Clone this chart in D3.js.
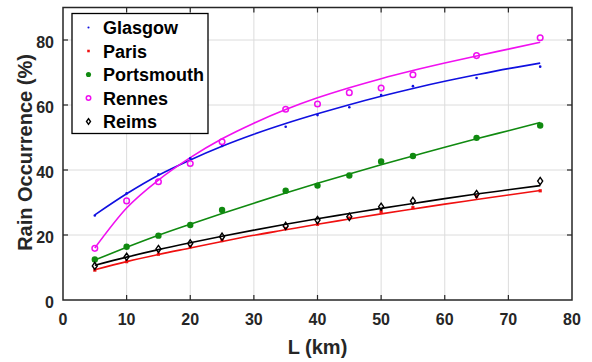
<!DOCTYPE html>
<html><head><meta charset="utf-8">
<script src="https://cdn.jsdelivr.net/npm/d3@7"></script>
<style>
html,body{margin:0;padding:0;background:#fff;}
svg{display:block;font-family:"Liberation Sans",Arial,sans-serif;}
</style></head>
<body><svg id="c" width="592" height="362"></svg>
<script>
// ---- data ----
const cities = ["Glasgow","Paris","Portsmouth","Rennes","Reims"];
const obsL = [5,10,15,20,25,35,40,45,50,55,65,75];
const glasgowObs    = [26.0,32.8,38.7,43.6,47.4,53.3,56.9,59.3,63.1,65.8,68.3,71.8];
const parisObs      = [9.2,11.8,14.1,16.4,18.3,22.0,23.3,25.2,27.2,28.4,31.8,33.6];
const portsmouthObs = [12.5,16.4,19.8,23.1,27.7,33.6,35.2,38.3,42.6,44.3,49.9,53.7];
const rennesObs     = [15.9,30.5,36.4,42.0,48.7,58.7,60.3,63.8,65.2,69.3,75.2,80.7];
const reimsObs      = [10.5,13.3,15.7,17.4,19.5,22.8,24.6,25.6,28.7,30.5,32.6,36.6];
const fitL = [5,10,15,20,25,30,35,40,45,50,55,60,65,70,75];
const glasgowFit    = [26.2,32.7,38.4,43.1,47.3,51.0,54.3,57.3,60.1,62.7,65.1,67.3,69.3,71.2,72.9];
const parisFit      = [9.3,11.8,14.0,16.0,18.0,19.9,21.6,23.3,24.9,26.5,28.0,29.5,30.9,32.3,33.7];
const portsmouthFit = [12.3,16.2,19.9,23.3,26.6,29.8,32.9,35.9,38.8,41.6,44.3,47.0,49.6,52.1,54.6];
const rennesFit     = [16.0,28.3,36.9,43.8,49.6,54.4,58.6,62.2,65.3,68.1,70.6,72.9,75.1,77.2,79.3];
const reimsFit      = [10.7,13.2,15.5,17.6,19.6,21.5,23.3,25.0,26.6,28.2,29.7,31.2,32.6,33.9,35.2];
const xTicks = [0,10,20,30,40,50,60,70,80];
const yTicks = [0,20,40,60,80];

const obs = [glasgowObs,parisObs,portsmouthObs,rennesObs,reimsObs];
const fits = [glasgowFit,parisFit,portsmouthFit,rennesFit,reimsFit];
const colors = ["#1010e0","#f01010","#108a10","#f010f0","#000000"];
const markers = ["dot","square","filled","open","diamond"];

// ---- layout ----
const svg = d3.select("#c");
const X0=63, X1=572, Y0=300, Y1=7.5;
const x = d3.scaleLinear().domain([0,80]).range([X0,X1]);
const y = d3.scaleLinear().domain([0,90]).range([Y0,Y1]);
const axisColor="#262626";

// grid
const g = svg.append("g");
g.selectAll("line.gx").data(xTicks.slice(1,-1)).join("line")
  .attr("x1",d=>x(d)).attr("x2",d=>x(d)).attr("y1",Y0).attr("y2",Y1)
  .attr("stroke","#dcdcdc").attr("stroke-width",1);
g.selectAll("line.gy").data(yTicks.slice(1)).join("line")
  .attr("y1",d=>y(d)).attr("y2",d=>y(d)).attr("x1",X0).attr("x2",X1)
  .attr("stroke","#dcdcdc").attr("stroke-width",1);

// fit lines
const line = d3.line().x(d=>x(d[0])).y(d=>y(d[1])).curve(d3.curveMonotoneX);
fits.forEach((f,i)=>{
  svg.append("path").datum(fitL.map((l,j)=>[l,f[j]]))
    .attr("d",line).attr("fill","none").attr("stroke",colors[i]).attr("stroke-width",1.6);
});

function drawMarker(sel, type, color, s){
  if(type==="dot"){
    sel.append("circle").attr("r",1.3*s).attr("fill",color);
  } else if(type==="square"){
    sel.append("rect").attr("x",-1.6*s).attr("y",-1.6*s).attr("width",3.2*s).attr("height",3.2*s).attr("fill",color);
  } else if(type==="filled"){
    sel.append("circle").attr("r",3.2*s).attr("fill",color);
  } else if(type==="open"){
    sel.append("circle").attr("r",2.8*s).attr("fill","none").attr("stroke",color).attr("stroke-width",1.5);
  } else {
    sel.append("path").attr("d",`M0,${-3.6*s}L${2.5*s},0L0,${3.6*s}L${-2.5*s},0Z`).attr("fill","none").attr("stroke",color).attr("stroke-width",1.4);
  }
}

// markers
obs.forEach((arr,i)=>{
  arr.forEach((v,j)=>{
    const m = svg.append("g").attr("transform",`translate(${x(obsL[j])},${y(v)})`);
    drawMarker(m, markers[i], colors[i], 1);
  });
});

// axes box + ticks
const ax = svg.append("g");
ax.append("rect").attr("x",X0).attr("y",Y1).attr("width",X1-X0).attr("height",Y0-Y1)
  .attr("fill","none").attr("stroke",axisColor).attr("stroke-width",1.5);
const tl=5;
xTicks.slice(1,-1).forEach(t=>{
  ax.append("line").attr("x1",x(t)).attr("x2",x(t)).attr("y1",Y0).attr("y2",Y0-tl).attr("stroke",axisColor).attr("stroke-width",1.2);
  ax.append("line").attr("x1",x(t)).attr("x2",x(t)).attr("y1",Y1).attr("y2",Y1+tl).attr("stroke",axisColor).attr("stroke-width",1.2);
});
yTicks.slice(1).forEach(t=>{
  ax.append("line").attr("y1",y(t)).attr("y2",y(t)).attr("x1",X0).attr("x2",X0+tl).attr("stroke",axisColor).attr("stroke-width",1.2);
  ax.append("line").attr("y1",y(t)).attr("y2",y(t)).attr("x1",X1).attr("x2",X1-tl).attr("stroke",axisColor).attr("stroke-width",1.2);
});
ax.selectAll("text.xt").data(xTicks).join("text")
  .attr("x",d=>x(d)).attr("y",325).attr("text-anchor","middle")
  .attr("font-size",16).attr("font-weight","bold").attr("fill",axisColor).text(d=>d);
ax.selectAll("text.yt").data(yTicks).join("text")
  .attr("x",54).attr("y",d=>y(d)+8).attr("text-anchor","end")
  .attr("font-size",16).attr("font-weight","bold").attr("fill",axisColor).text(d=>d);

svg.append("text").attr("x",(X0+X1)/2).attr("y",354).attr("text-anchor","middle")
  .attr("font-size",20).attr("font-weight","bold").attr("fill",axisColor).text("L (km)");
svg.append("text").attr("transform",`translate(32,${(53+252)/2}) rotate(-90)`)
  .attr("text-anchor","middle")
  .attr("font-size",20).attr("font-weight","bold").attr("fill",axisColor).text("Rain Occurrence (%)");

// legend
const lg = svg.append("g");
lg.append("rect").attr("x",72).attr("y",13.5).attr("width",136).attr("height",120)
  .attr("fill","#fff").attr("stroke","#000").attr("stroke-width",1.3);
const ly=[27.5,51,74.5,98,121.5];
cities.forEach((c,i)=>{
  const m = lg.append("g").attr("transform",`translate(88.5,${ly[i]})`);
  drawMarker(m, markers[i], colors[i], 0.8);
  lg.append("text").attr("x",103).attr("y",ly[i]+6.5).attr("font-size",18).attr("font-weight","bold")
    .attr("fill","#000").text(c);
});
</script></body></html>
